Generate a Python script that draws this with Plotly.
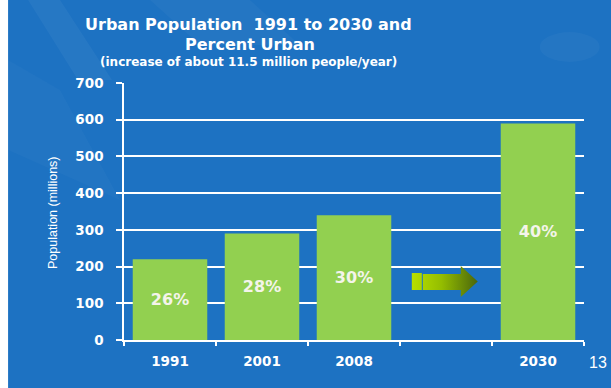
import plotly.graph_objects as go

# ---- data ----
years = ["1991", "2001", "2008", " ", "2030"]
population_millions = [220, 290, 340, None, 590]
percent_urban = ["26%", "28%", "30%", "", "40%"]
y_ticks = [0, 100, 200, 300, 400, 500, 600, 700]

# ---- page geometry (pixels) ----
W, H = 611, 388
PL, PR, PT, PB = 124, 584.3, 83, 340   # plot area edges

BG = "#1d72c2"
BAR = "#92d050"
TXT = "#ffffff"


def px(x):
    return (x - PL) / (PR - PL)


def py(y):
    return (PB - y) / (PB - PT)


fig = go.Figure()

fig.add_trace(go.Bar(
    x=years,
    y=population_millions,
    text=percent_urban,
    textposition="inside",
    insidetextanchor="middle",
    textfont=dict(family="DejaVu Sans", size=16, color="#f4f4ea", weight="bold"),
    marker=dict(color=BAR, line=dict(width=0)),
    hoverinfo="skip",
    showlegend=False,
))

# gradient arrow pointing toward the 2030 bar (drawn on a pixel overlay axis)
ax = [412, 422, 422, 412, 412, None, 423, 461, 461, 478, 461, 461, 423, 423]
ay = [273, 273, 290, 290, 273, None, 274, 274, 266, 281.5, 297, 290, 290, 274]
fig.add_trace(go.Scatter(
    x=ax, y=ay, xaxis="x2", yaxis="y2",
    mode="lines", line=dict(width=0),
    fill="toself",
    fillgradient=dict(type="horizontal",
                      colorscale=[[0, "#b8e000"], [0.45, "#94bd00"], [1, "#4a660c"]]),
    hoverinfo="skip", showlegend=False,
))

shapes = [
    # white strip at the left edge
    dict(type="rect", xref="paper", yref="paper",
         x0=px(-2), x1=px(8), y0=py(H + 2), y1=py(-2),
         fillcolor="white", line=dict(width=0), layer="below"),
    # soft diagonal light streaks in the backdrop
    dict(type="path", xref="paper", yref="paper",
         path=f"M {px(28)},{py(0)} L {px(60)},{py(0)} L {px(112)},{py(80)} L {px(78)},{py(80)} Z",
         fillcolor="rgba(255,255,255,0.045)", line=dict(width=0), layer="below"),
    dict(type="path", xref="paper", yref="paper",
         path=f"M {px(150)},{py(0)} L {px(250)},{py(0)} L {px(300)},{py(45)} L {px(200)},{py(45)} Z",
         fillcolor="rgba(255,255,255,0.03)", line=dict(width=0), layer="below"),
    dict(type="path", xref="paper", yref="paper",
         path=f"M {px(8)},{py(60)} L {px(60)},{py(90)} L {px(120)},{py(200)} L {px(8)},{py(150)} Z",
         fillcolor="rgba(255,255,255,0.025)", line=dict(width=0), layer="below"),
    dict(type="circle", xref="paper", yref="paper",
         x0=px(540), x1=px(600), y0=py(62), y1=py(32),
         fillcolor="rgba(255,255,255,0.03)", line=dict(width=0), layer="below"),
]


def label(text, x, y, size, family="DejaVu Sans", angle=0):
    return dict(text=text, x=px(x), y=py(y), xref="paper", yref="paper",
                xanchor="center", yanchor="middle", showarrow=False,
                textangle=angle, font=dict(family=family, size=size, color=TXT))


annotations = [
    label("<b>Urban Population  1991 to 2030 and</b>", 249, 25, 16),
    label("<b>Percent Urban</b>", 250, 44, 16),
    label("<b>(increase of about 11.5 million people/year)</b>", 249, 62, 12),
    label("Population (millions)", 53, 213, 12.5,
          family="Liberation Sans Narrow, Liberation Sans", angle=-90),
    label("13", 598, 362, 16, family="Liberation Sans"),
]

fig.update_layout(
    width=W, height=H,
    margin=dict(l=PL, r=W - PR, t=PT, b=H - PB, pad=0),
    paper_bgcolor=BG, plot_bgcolor="rgba(0,0,0,0)",
    bargap=0.19,
    shapes=shapes,
    annotations=annotations,
    xaxis=dict(
        type="category", range=[-0.5, 4.5],
        showline=True, linecolor="white", linewidth=1.5,
        ticks="outside", tickson="boundaries", ticklen=4, tickwidth=1.5, tickcolor="white",
        showgrid=False, zeroline=False,
        ticklabelstandoff=8,
        tickfont=dict(family="DejaVu Sans", size=13.5, color=TXT, weight="bold"),
    ),
    yaxis=dict(
        range=[0, 700], tickvals=y_ticks,
        showline=True, linecolor="white", linewidth=1.5,
        ticks="outside", ticklen=6, tickwidth=1.5, tickcolor="white",
        showgrid=True, gridcolor="white", gridwidth=1.5, zeroline=False,
        ticklabelstandoff=10,
        tickfont=dict(family="DejaVu Sans", size=13.5, color=TXT, weight="bold"),
    ),
    xaxis2=dict(overlaying="x", range=[PL, PR], visible=False, fixedrange=True),
    yaxis2=dict(overlaying="y", range=[PB, PT], visible=False, fixedrange=True),
)

fig.write_html("out.html")
